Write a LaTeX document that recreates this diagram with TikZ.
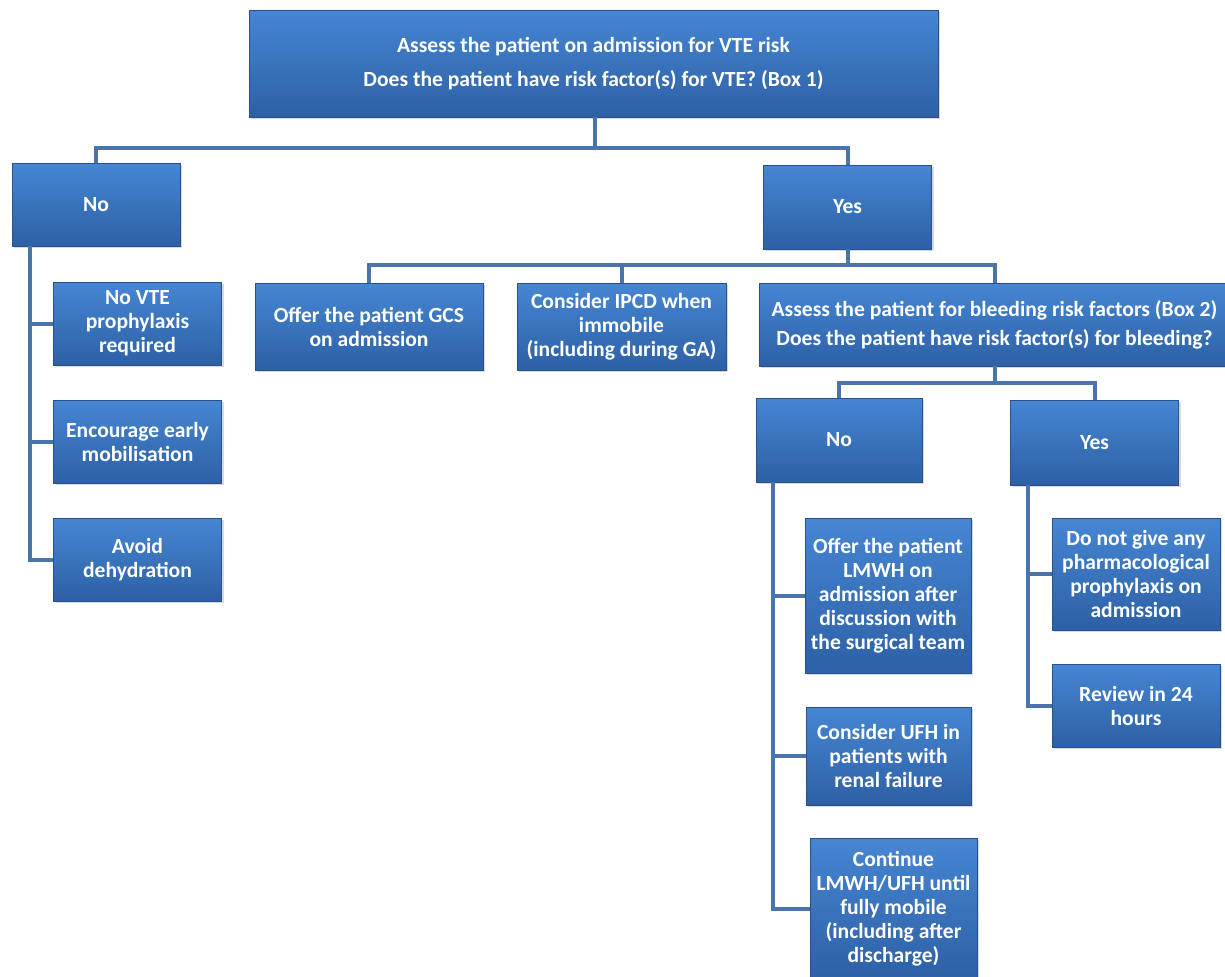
\documentclass[tikz,border=0pt]{standalone}
\usepackage{fontspec}
\setmainfont{Carlito}
\usepackage{tikz}
\usetikzlibrary{shadows}

\definecolor{boxtop}{RGB}{70,134,211}
\definecolor{boxbot}{RGB}{45,96,165}
\definecolor{boxedge}{RGB}{40,80,140}
\definecolor{linkblue}{RGB}{74,116,170}

\tikzset{
  box/.style={draw=boxedge, line width=0.6pt, top color=boxtop, bottom color=boxbot,
    text=white, align=center, inner sep=2pt,
    font=\fontsize{16.2}{18}\selectfont\bfseries,
    drop shadow={opacity=0.3, shadow xshift=1.5pt, shadow yshift=-1.5pt}},
  sbox/.style={box, minimum width=126pt, minimum height=62.25pt},
  link/.style={draw=linkblue, line width=3pt}
}

\begin{document}
\begin{tikzpicture}[x=0.75pt,y=0.75pt,yscale=-1,xscale=1]
\useasboundingbox (0,0) rectangle (1225,976);

%Connector: points where the lines split
\coordinate (riskJoin) at (595,148);
\coordinate (yesJoin) at (847.5,265);
\coordinate (bleedJoin) at (994.5,383);
\coordinate (noRail) at (30,246);
\coordinate (noRailB) at (773,482);
\coordinate (yesRailB) at (1028,485);

%Box: first assessment
\node[box, minimum width=516.75pt, minimum height=80.25pt] (risk) at (593.5,63.5)
  {Assess the patient on admission for VTE risk\\[7pt]Does the patient have risk factor(s) for VTE? (Box 1)};
%Box: no / yes
\node[sbox] (no) at (96,204.5) {No};
\node[sbox, minimum height=63pt] (yes) at (847.5,207) {Yes};

%Box: no branch
\node[sbox] (nvte) at (137.5,323.5) {No VTE\\prophylaxis\\required};
\node[sbox] (early) at (137.5,441.5) {Encourage early\\mobilisation};
\node[sbox] (dehyd) at (137.5,559.5) {Avoid\\dehydration};

%Box: yes branch
\node[box, minimum width=171pt, minimum height=65.25pt] (gcs) at (369,326.5)
  {Offer the patient GCS\\on admission};
\node[box, minimum width=156.75pt, minimum height=65.25pt] (ipcd) at (621.5,326.5)
  {Consider IPCD when\\immobile\\(including during GA)};
\node[box, minimum width=353.25pt, minimum height=62.25pt] (bleed) at (994.5,324.5)
  {Assess the patient for bleeding risk factors (Box 2)\\[4pt]Does the patient have risk factor(s) for bleeding?};

%Box: bleeding no / yes
\node[sbox, minimum width=124.5pt, minimum height=63pt] (noB) at (839,440) {No};
\node[sbox, minimum height=63.75pt] (yesB) at (1094.5,442.5) {Yes};

%Box: no bleeding risk
\node[box, minimum width=124.5pt, minimum height=116.25pt] (lmwh) at (888,595.5)
  {Offer the patient\\LMWH on\\admission after\\discussion with\\the surgical team};
\node[box, minimum width=123.75pt, minimum height=73.5pt] (ufh) at (888.5,756)
  {Consider UFH in\\patients with\\renal failure};
\node[box, minimum width=125.25pt, minimum height=106.5pt] (cont) at (893.5,909)
  {Continue\\LMWH/UFH until\\fully mobile\\(including after\\discharge)};

%Box: bleeding risk
\node[box, minimum width=126pt, minimum height=84pt] (nopharm) at (1136,574)
  {Do not give any\\pharmacological\\prophylaxis on\\admission};
\node[sbox] (review) at (1136,705.5) {Review in 24\\hours};

%Straight Lines: top split
\draw[link] (risk.south -| riskJoin) -- (riskJoin) -| (no.north);
\draw[link] (riskJoin) -| (yes.north);
%Straight Lines: yes split
\draw[link] (yes.south) -- (yesJoin) -| (gcs.north);
\draw[link] (yesJoin) -| (ipcd.north);
\draw[link] (yesJoin) -| (bleed.north);
%Straight Lines: bleeding split
\draw[link] (bleed.south) -- (bleedJoin) -| (noB.north);
\draw[link] (bleedJoin) -| (yesB.north);
%Straight Lines: rails
\draw[link] (noRail) |- (dehyd.west);
\draw[link] (noRail) |- (nvte.west);
\draw[link] (noRail) |- (early.west);
\draw[link] (noRailB) |- (cont.west);
\draw[link] (noRailB) |- (lmwh.west);
\draw[link] (noRailB) |- (ufh.west);
\draw[link] (yesRailB) |- (review.west);
\draw[link] (yesRailB) |- (nopharm.west);

\end{tikzpicture}
\end{document}
